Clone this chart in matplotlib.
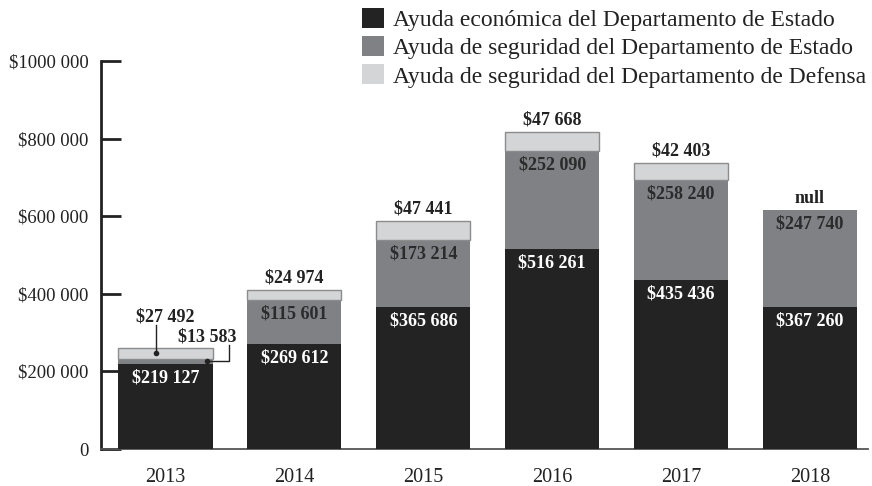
"""Stacked bars of US aid by year (Spanish labels)."""

import matplotlib

matplotlib.use("Agg")
import matplotlib.pyplot as plt
import numpy as np
from matplotlib.patches import Patch

plt.rcParams["font.family"] = ["Liberation Serif", "DejaVu Serif"]

YEARS = ["2013", "2014", "2015", "2016", "2017", "2018"]
ECONOMIC_STATE = [219127, 269612, 365686, 516261, 435436, 367260]
SECURITY_STATE = [13583, 115601, 173214, 252090, 258240, 247740]
SECURITY_DEFENSE = [27492, 24974, 47441, 47668, 42403, None]
SERIES_NAMES = [
    "Ayuda económica del Departamento de Estado",
    "Ayuda de seguridad del Departamento de Estado",
    "Ayuda de seguridad del Departamento de Defensa",
]
Y_TICKS = [0, 200000, 400000, 600000, 800000, 1000000]
Y_TICK_LABELS = ["0", "$200 000", "$400 000", "$600 000", "$800 000", "$1000 000"]

DARK = "#232323"
MID = "#7f8185"
LIGHT = "#d4d5d7"
PX = 0.72  # points per pixel at dpi 100


def money(v):
    if v is None:
        return "null"
    return "$" + f"{v:,}".replace(",", " ")


fig = plt.figure(figsize=(8.72, 4.86), dpi=100)
ax = fig.add_axes([101 / 872, 1 - 449 / 486, 767 / 872, 388 / 486])

x = np.arange(len(YEARS))
econ = np.array(ECONOMIC_STATE, dtype=float)
sec = np.array(SECURITY_STATE, dtype=float)
dod = np.array([v if v is not None else 0 for v in SECURITY_DEFENSE], dtype=float)
has_dod = np.array([v is not None for v in SECURITY_DEFENSE])
width = 0.73

ax.bar(x, econ, width, color=DARK, zorder=3)
ax.bar(x, sec, width, bottom=econ, color=MID, zorder=3)
ax.bar(x[has_dod], dod[has_dod], width, bottom=(econ + sec)[has_dod], color=LIGHT,
       edgecolor="#8c8c8c", linewidth=1.0, zorder=3)

ax.set_xlim(-0.5, 5.45)
ax.set_ylim(0, 1000000)
ax.set_xticks(x)
ax.set_xticklabels(YEARS, fontsize=14.5, color="#222222")
ax.set_yticks(Y_TICKS)
ax.set_yticklabels(Y_TICK_LABELS, fontsize=13.5, color="#222222")
ax.tick_params(axis="x", length=0, pad=14)
ax.tick_params(axis="y", direction="in", length=14.5, width=2, color="#222222", pad=9)

for side in ["top", "right"]:
    ax.spines[side].set_visible(False)
ax.spines["left"].set_linewidth(2)
ax.spines["left"].set_color("#222222")
ax.spines["bottom"].set_linewidth(1.3)
ax.spines["bottom"].set_color("#555555")

bold = dict(fontsize=13, fontweight="bold", ha="center", va="center")
for i in range(len(YEARS)):
    top = econ[i] + sec[i] + dod[i]
    if i == 0:
        # small segments get labels with leader lines
        ax.annotate(money(SECURITY_DEFENSE[i]), (x[i], top), xytext=(0, 31 * PX),
                    textcoords="offset points", color="#222222", **bold)
        ax.annotate(money(SECURITY_STATE[i]), (x[i], top), xytext=(42 * PX, 11 * PX),
                    textcoords="offset points", color="#222222", **bold)
        dod_mid = econ[i] + sec[i] + dod[i] / 2
        sec_mid = econ[i] + sec[i] / 2
        y_text = top + 23 / 388 * 1e6
        ax.plot([x[i] - 0.07, x[i] - 0.07], [dod_mid, y_text], color="#222222",
                lw=1, zorder=4)
        ax.plot([x[i] - 0.07], [dod_mid], "o", color="#222222", ms=3, zorder=4)
        y_text2 = top + 3 / 388 * 1e6
        ax.plot([x[i] + 0.32, x[i] + 0.49, x[i] + 0.49], [sec_mid, sec_mid, y_text2],
                color="#222222", lw=1, zorder=4)
        ax.plot([x[i] + 0.32], [sec_mid], "o", color="#222222", ms=3, zorder=4)
    else:
        ax.annotate(money(SECURITY_DEFENSE[i]), (x[i], top), xytext=(0, 12 * PX),
                    textcoords="offset points", color="#222222", **bold)
        ax.annotate(money(SECURITY_STATE[i]), (x[i], econ[i] + sec[i]),
                    xytext=(0, -14 * PX), textcoords="offset points",
                    color="#2b2b2b", zorder=5, **bold)
    ax.annotate(money(ECONOMIC_STATE[i]), (x[i], econ[i]), xytext=(0, -14 * PX),
                textcoords="offset points", color="white", zorder=5, **bold)

handles = [Patch(facecolor=c) for c in [DARK, MID, LIGHT]]
fig.legend(handles, SERIES_NAMES, loc="upper left", bbox_to_anchor=(357 / 872, 1 - 3 / 486),
           frameon=False, fontsize=17, handlelength=0.93, handleheight=0.93,
           handletextpad=0.38, labelspacing=0.22, borderaxespad=0, borderpad=0.2,
           labelcolor="#222222")

fig.savefig("out.png", dpi=100)
